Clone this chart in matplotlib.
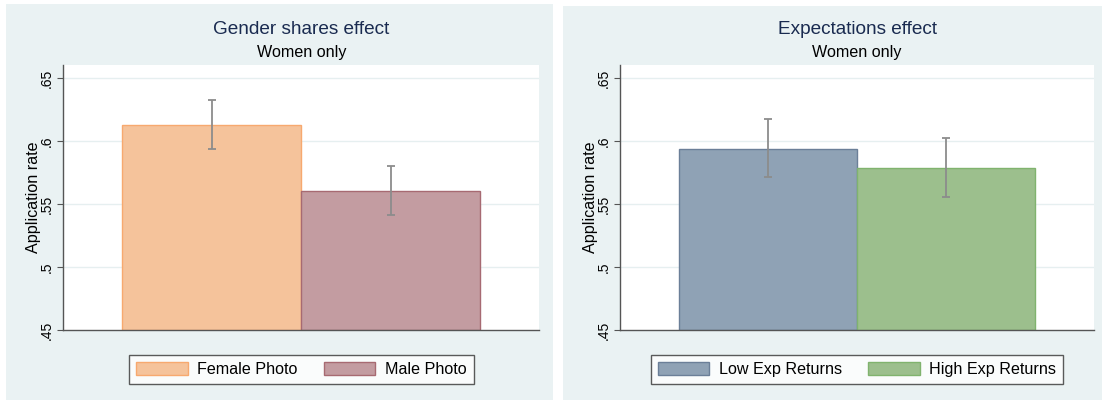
import matplotlib.pyplot as plt
from matplotlib.patches import Rectangle

# data
left_labels = ["Female Photo", "Male Photo"]
left_means = [0.613, 0.5605]
left_lo = [0.594, 0.5415]
left_hi = [0.6325, 0.5805]

right_labels = ["Low Exp Returns", "High Exp Returns"]
right_means = [0.594, 0.579]
right_lo = [0.5715, 0.556]
right_hi = [0.618, 0.6025]

yticks = [0.45, 0.5, 0.55, 0.6, 0.65]
yticklabels = [".45", ".5", ".55", ".6", ".65"]

plt.rcParams['font.family'] = ['Liberation Sans', 'DejaVu Sans']

W, H = 1102, 400
fig = plt.figure(figsize=(11.02, 4.0), dpi=100)
bg = "#EAF2F3"

# panel backgrounds (pixel boxes -> figure fractions)
for x0, x1, y0, y1 in [(6, 553, 4, 400), (563, 1102, 6, 400)]:
    fig.patches.append(Rectangle((x0 / W, 1 - y1 / H), (x1 - x0) / W, (y1 - y0) / H,
                                 transform=fig.transFigure, facecolor=bg,
                                 edgecolor="none", zorder=-10))


def panel(px0, px1, title, labels, means, lo, hi, fills, edges):
    top, bot = 64.5, 330
    ax = fig.add_axes([px0 / W, 1 - bot / H, (px1 - px0) / W, (bot - top) / H])
    ax.set_facecolor("white")
    xs = [0, 1]
    bars = ax.bar(xs, [m - 0.45 for m in means], bottom=0.45, width=1.0,
                  color=fills, edgecolor=edges, linewidth=1.0, zorder=2)
    err = [[m - l for m, l in zip(means, lo)], [h - m for m, h in zip(means, hi)]]
    ax.errorbar(xs, means, yerr=err, fmt="none", ecolor="#8C8C8C",
                elinewidth=1.3, capsize=3, capthick=1.3, zorder=3)
    ax.set_xlim(-0.828, 1.83)
    ax.set_ylim(0.45, 0.661)
    ax.set_yticks(yticks)
    ax.set_yticklabels(yticklabels, rotation=90, va="center", fontsize=10)
    ax.tick_params(axis="y", length=4, width=0.8, color="#555555", pad=3)
    ax.set_xticks([])
    for y in yticks[1:]:
        ax.axhline(y, color="#E6EFF0", linewidth=1.0, zorder=1)
    for s in ["top", "right"]:
        ax.spines[s].set_visible(False)
    for s in ["left", "bottom"]:
        ax.spines[s].set_color("#555555")
        ax.spines[s].set_linewidth(1.0)
    ax.set_ylabel("Application rate", fontsize=11.6, labelpad=-1)
    cx = (px0 + px1) / 2 / W
    fig.text(cx, 1 - 29 / H, title, ha="center", va="center", fontsize=13.7,
             color="#1A2B50")
    fig.text(cx, 1 - 52.5 / H, "Women only", ha="center", va="center",
             fontsize=11.6, color="black")
    leg = ax.legend(bars, labels, ncol=2, loc="center",
                    bbox_to_anchor=(cx, 1 - 369.5 / H),
                    bbox_transform=fig.transFigure, fontsize=11.6,
                    frameon=True, fancybox=False, edgecolor="#333333",
                    handlelength=3.2, handleheight=0.8, handletextpad=0.6,
                    columnspacing=1.6, borderpad=0.45)
    leg.get_frame().set_linewidth(1.0)
    return ax


panel(63.2, 539.4, "Gender shares effect", left_labels, left_means, left_lo, left_hi,
      ["#F5C39B", "#C39CA1"], ["#F7A96F", "#A76A72"])
panel(620.2, 1093.9, "Expectations effect", right_labels, right_means, right_lo, right_hi,
      ["#8FA2B5", "#9CBF8D"], ["#6B7F98", "#80B36E"])

fig.savefig("out.png", dpi=100)
